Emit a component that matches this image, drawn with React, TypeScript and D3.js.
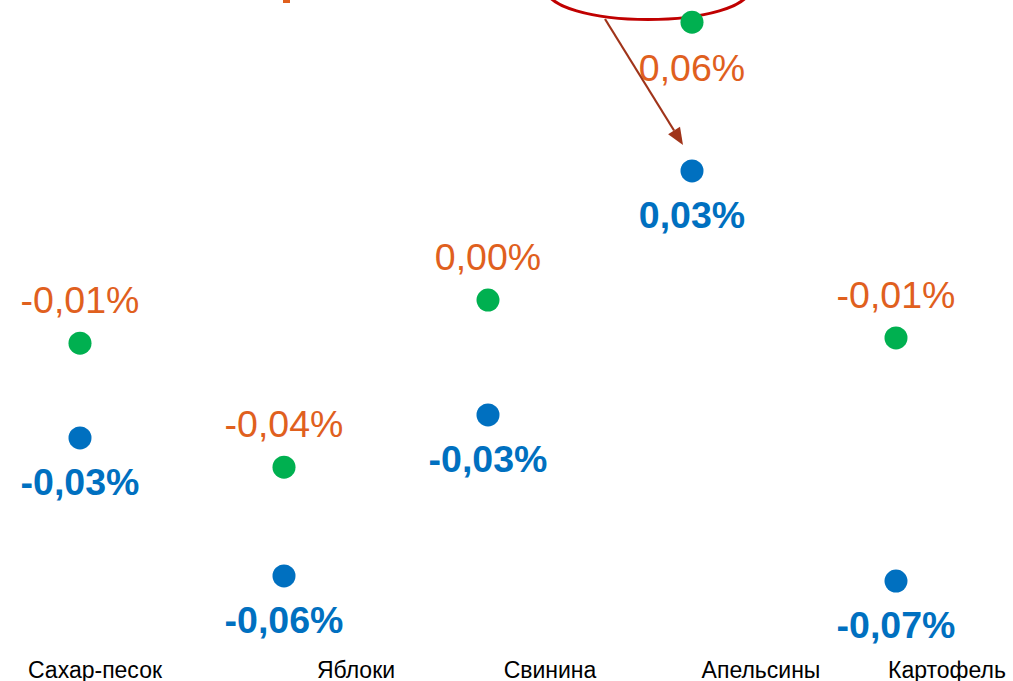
import React from "react";
import * as d3 from "d3";

// ---- data ----
const categories = ["Сахар-песок", "Яблоки", "Свинина", "Апельсины", "Картофель"];
// green points (orange labels), % change
const greenValues = [-0.0113, -0.0398, -0.0014, 0.0625, -0.0101];
// blue points (blue bold labels), % change
const blueValues = [-0.0331, -0.0648, -0.0278, 0.0283, -0.066];
// horizontal offsets of the category captions relative to the point column
const captionShift = [15, 72, 62, 69, 51];
// which green labels sit below their point (the one near the callout)
const greenLabelBelow = [false, false, false, true, false];

const W = 1013;
const H = 681;
const FONT = "'Liberation Sans', Arial, sans-serif";

const fmt = (v: number) => {
  let s = v.toFixed(2);
  if (Number(s) === 0) s = "0.00";
  return s.replace(".", ",") + "%";
};

export default function App() {
  const x = d3.scalePoint<string>().domain(categories).range([80, 896]).padding(0);
  const y = d3.scaleLinear().domain([-0.07, 0.07]).range([598.5, -10.5]);

  const green = "#00B050";
  const blue = "#0070C0";
  const orange = "#E0601E";

  // callout ellipse + arrow (annotation)
  const arrowStart: [number, number] = [605, 19];
  const arrowEnd: [number, number] = [683, 145];
  const ang = Math.atan2(arrowEnd[1] - arrowStart[1], arrowEnd[0] - arrowStart[0]);
  const headLen = 17;
  const headW = 7;
  const bx = arrowEnd[0] - headLen * Math.cos(ang);
  const by = arrowEnd[1] - headLen * Math.sin(ang);
  const head = [
    [arrowEnd[0], arrowEnd[1]],
    [bx + headW * Math.sin(ang), by - headW * Math.cos(ang)],
    [bx - headW * Math.sin(ang), by + headW * Math.cos(ang)],
  ];

  return (
    <div style={{ position: "absolute", left: 0, top: 0 }}>
      <svg width={W} height={H} style={{ display: "block", background: "#fff" }}>
        {/* cut-off orange fragment at top */}
        <rect x={283} y={0} width={7} height={3} fill={orange} />

        {/* callout */}
        <ellipse cx={648} cy={-10} rx={101} ry={29.5} fill="none" stroke="#C00000" strokeWidth={3} />

        {categories.map((c, i) => (
          <g key={c}>
            <circle cx={x(c)} cy={y(greenValues[i])} r={11.5} fill={green} />
            <circle cx={x(c)} cy={y(blueValues[i])} r={11.5} fill={blue} />
            <text
              x={x(c)}
              y={y(greenValues[i]) + (greenLabelBelow[i] ? 59 : -30)}
              textAnchor="middle"
              fontFamily={FONT}
              fontSize={37.5}
              fill={orange}
            >
              {fmt(greenValues[i])}
            </text>
            <text
              x={x(c)}
              y={y(blueValues[i]) + 57}
              textAnchor="middle"
              fontFamily={FONT}
              fontSize={37.5}
              fontWeight="bold"
              fill={blue}
            >
              {fmt(blueValues[i])}
            </text>
            <text
              x={(x(c) as number) + captionShift[i]}
              y={677.5}
              textAnchor="middle"
              fontFamily={FONT}
              fontSize={23}
              fill="#000"
            >
              {c}
            </text>
          </g>
        ))}

        <line
          x1={arrowStart[0]}
          y1={arrowStart[1]}
          x2={bx}
          y2={by}
          stroke="#A0341A"
          strokeWidth={2.2}
        />
        <polygon points={head.map((p) => p.join(",")).join(" ")} fill="#A0341A" />
      </svg>
    </div>
  );
}
